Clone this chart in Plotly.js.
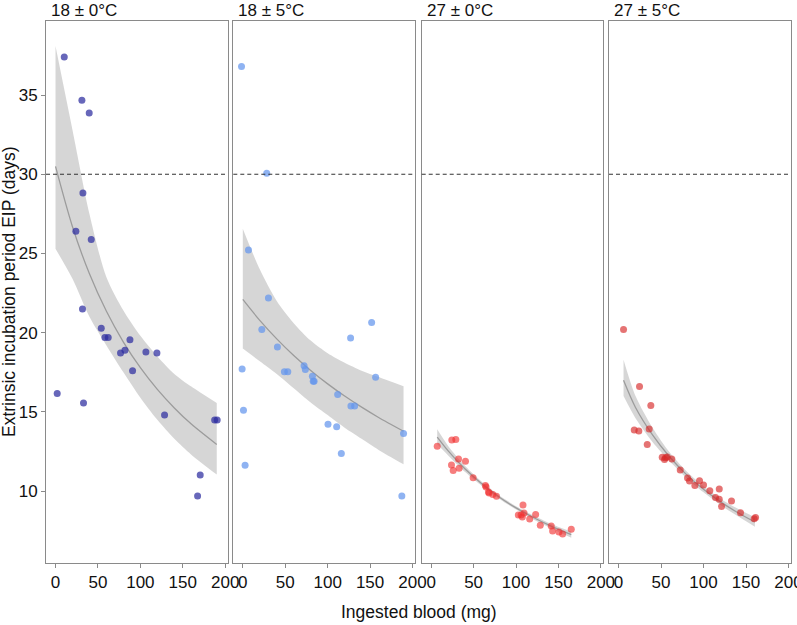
<!DOCTYPE html>
<html>
<head>
<meta charset="utf-8">
<script src="https://cdn.plot.ly/plotly-3.0.1.min.js"></script>
<style>
  html, body { margin: 0; padding: 0; background: #fff; }
  #chart { width: 797px; height: 625px; }
</style>
</head>
<body>
<div id="chart"></div>
<script>
// Panel labels (temperature regimes)
const panelTitles = ["18 \u00b1 0\u00b0C", "18 \u00b1 5\u00b0C", "27 \u00b1 0\u00b0C", "27 \u00b1 5\u00b0C"];

// Observed EIP (days) against ingested blood (mg)
const bloodA = [10.3, 31.1, 39.7, 32.3, 24.0, 42.1, 31.8, 53.9, 58.2, 62.1, 87.7, 76.6, 81.8, 106.5, 119.5, 90.8, 2.0, 33.0, 128.5, 187.5, 190.5, 170.5, 167.4];
const eipA   = [37.4, 34.67, 33.87, 28.82, 26.4, 25.88, 21.5, 20.28, 19.7, 19.7, 19.56, 18.72, 18.9, 18.78, 18.72, 17.6, 16.16, 15.56, 14.8, 14.49, 14.49, 11.02, 9.69];

const bloodB = [-1.5, 28.2, 6.7, 30.2, 22.4, 40.8, -0.8, 49.0, 53.0, 72.2, 73.7, 82.0, 83.0, 84.0, 111.8, 127.0, 151.8, 156.5, 127.4, 131.8, 100.4, 110.6, 116.1, 0.8, 2.7, 189.4, 187.4];
const eipB   = [36.8, 30.06, 25.22, 22.19, 20.2, 19.1, 17.71, 17.54, 17.54, 17.92, 17.67, 17.25, 16.93, 16.93, 16.1, 19.67, 20.64, 17.18, 15.37, 15.37, 14.22, 14.07, 12.37, 15.1, 11.63, 13.63, 9.69];

const bloodC = [7.1, 24.3, 29.0, 23.9, 25.9, 32.2, 32.9, 40.4, 49.4, 63.9, 64.7, 67.5, 68.2, 72.6, 76.9, 108.2, 102.7, 105.9, 107.4, 109.4, 116.1, 123.1, 128.6, 141.5, 143.1, 150.6, 154.9, 165.1];
const eipC   = [12.83, 13.23, 13.25, 11.65, 11.3, 12.03, 11.44, 11.88, 10.85, 10.35, 10.26, 9.94, 9.88, 9.78, 9.67, 9.12, 8.49, 8.49, 8.37, 8.62, 8.24, 8.52, 7.84, 7.8, 7.48, 7.42, 7.29, 7.59];

const bloodD = [5.9, 24.7, 38.0, 18.5, 23.9, 36.1, 33.8, 51.4, 54.1, 57.3, 55.3, 62.7, 72.6, 81.2, 83.5, 89.8, 95.3, 100.0, 107.4, 114.1, 118.5, 118.5, 121.2, 132.9, 143.5, 159.6, 161.2];
const eipD   = [20.2, 16.6, 15.4, 13.86, 13.79, 13.92, 12.94, 12.13, 12.0, 12.15, 12.11, 12.03, 11.33, 10.83, 10.64, 10.35, 10.66, 10.39, 10.02, 9.6, 9.48, 10.13, 9.02, 9.38, 8.64, 8.26, 8.33];

// Fitted curves with confidence bands
const fitXA  = [0, 20, 40, 60, 80, 100, 120, 140, 160, 190];
const fitA   = [30.5, 26.69, 23.72, 21.35, 19.41, 17.79, 16.42, 15.25, 14.23, 12.94];
const upperA = [38.1, 32.8, 27.5, 23.5, 21.4, 19.8, 18.5, 17.4, 16.6, 15.56];
const lowerA = [25.3, 23.4, 21.0, 19.2, 17.5, 15.9, 14.5, 13.3, 12.3, 11.04];

const fitXB  = [0, 20, 40, 60, 80, 100, 120, 140, 160, 189.4];
const fitB   = [22.1, 20.78, 19.61, 18.56, 17.62, 16.77, 16.0, 15.3, 14.65, 13.78];
const upperB = [26.57, 24.0, 22.0, 20.6, 19.5, 18.7, 18.1, 17.6, 17.2, 16.62];
const lowerB = [19.0, 18.2, 17.4, 16.5, 15.6, 14.8, 14.0, 13.3, 12.6, 11.69];

const fitXC  = [7.1, 20, 40, 60, 80, 100, 120, 140, 165.1];
const fitC   = [13.41, 12.54, 11.39, 10.44, 9.63, 8.94, 8.35, 7.82, 7.25];
const upperC = [13.9, 12.85, 11.58, 10.57, 9.74, 9.05, 8.47, 7.96, 7.45];
const lowerC = [12.95, 12.25, 11.2, 10.31, 9.52, 8.83, 8.23, 7.69, 7.05];

const fitXD  = [5.9, 20, 40, 60, 80, 100, 120, 140, 160.4];
const fitD   = [17.0, 15.28, 13.55, 12.17, 11.04, 10.11, 9.32, 8.65, 8.05];
const upperD = [18.3, 16.0, 14.0, 12.45, 11.25, 10.3, 9.52, 8.9, 8.35];
const lowerD = [16.0, 14.6, 13.1, 11.9, 10.83, 9.92, 9.12, 8.42, 7.75];

// Reference threshold (days)
const threshold = 30;

const xTicks = [0, 50, 100, 150, 200];
const yTicks = [10, 15, 20, 25, 30, 35];

const panels = [
  { bx: bloodA, by: eipA, fx: fitXA, fy: fitA, up: upperA, lo: lowerA, color: "rgba(45,45,160,0.72)" },
  { bx: bloodB, by: eipB, fx: fitXB, fy: fitB, up: upperB, lo: lowerB, color: "rgba(100,149,237,0.72)" },
  { bx: bloodC, by: eipC, fx: fitXC, fy: fitC, up: upperC, lo: lowerC, color: "rgba(240,45,45,0.62)" },
  { bx: bloodD, by: eipD, fx: fitXD, fy: fitD, up: upperD, lo: lowerD, color: "rgba(215,40,40,0.65)" }
];

const domains = [[0, 0.2439], [0.2514, 0.4953], [0.5043, 0.7481], [0.7557, 1]];
const FONT = "Liberation Sans, Arial, Helvetica, sans-serif";
const frame = "#8a8a8a";
const TICK_SIZE = 17;

const traces = [];
const shapes = [];
const annotations = [];
const layout = {
  width: 797, height: 625,
  margin: { l: 46, r: 6, t: 21, b: 62 },
  paper_bgcolor: "#fff", plot_bgcolor: "#fff",
  showlegend: false,
  font: { family: FONT, size: TICK_SIZE, color: "#111" }
};

panels.forEach((p, i) => {
  const n = i + 1;
  const xa = n === 1 ? "x" : "x" + n;
  const ya = n === 1 ? "y" : "y" + n;

  // confidence band: lower edge, then upper edge filled down to it
  traces.push({
    type: "scatter", mode: "lines", xaxis: xa, yaxis: ya,
    x: p.fx, y: p.lo,
    line: { width: 0, shape: "spline", smoothing: 0.8 }, hoverinfo: "skip"
  });
  traces.push({
    type: "scatter", mode: "lines", xaxis: xa, yaxis: ya,
    x: p.fx, y: p.up,
    fill: "tonexty", fillcolor: "rgba(153,153,153,0.4)",
    line: { width: 0, shape: "spline", smoothing: 0.8 }, hoverinfo: "skip"
  });
  // fitted curve
  traces.push({
    type: "scatter", mode: "lines", xaxis: xa, yaxis: ya,
    x: p.fx, y: p.fy,
    line: { color: "#9c9c9c", width: 1.3, shape: "spline", smoothing: 0.8 }
  });
  // observations
  traces.push({
    type: "scatter", mode: "markers", xaxis: xa, yaxis: ya,
    x: p.bx, y: p.by,
    marker: { color: p.color, size: 7, line: { width: 0 } }
  });

  layout["xaxis" + (n === 1 ? "" : n)] = {
    domain: domains[i], anchor: ya, range: [-11.2, 202.9],
    tickvals: xTicks, ticktext: xTicks.map(String),
    ticks: "outside", ticklen: 4, tickcolor: frame, tickwidth: 1,
    ticklabeloverflow: "allow",
    showline: true, linecolor: frame, linewidth: 1, mirror: true,
    showgrid: false, zeroline: false,
    tickfont: { family: FONT, size: TICK_SIZE, color: "#111" }
  };
  layout["yaxis" + (n === 1 ? "" : n)] = {
    anchor: xa, range: [5.46, 39.68],
    tickvals: yTicks, ticktext: yTicks.map(String),
    ticks: n === 1 ? "outside" : "", ticklen: 4, tickcolor: frame, tickwidth: 1,
    showticklabels: n === 1,
    showline: true, linecolor: frame, linewidth: 1, mirror: true,
    showgrid: false, zeroline: false,
    tickfont: { family: FONT, size: TICK_SIZE, color: "#111" }
  };

  shapes.push({
    type: "line", xref: xa + " domain", yref: ya,
    x0: 0, x1: 1, y0: threshold, y1: threshold,
    line: { color: "#333", width: 1.1, dash: "4px,3px" }, layer: "above"
  });

  annotations.push({
    text: panelTitles[i], xref: "paper", yref: "paper",
    x: domains[i][0], y: 1, xanchor: "left", yanchor: "bottom",
    xshift: 3, yshift: -1, showarrow: false,
    font: { family: FONT, size: 17, color: "#111" }
  });
});

annotations.push({
  text: "Ingested blood (mg)", xref: "paper", yref: "paper",
  x: 0.5, y: 0, yshift: -49, xanchor: "center", yanchor: "middle",
  showarrow: false, font: { family: FONT, size: 17.5, color: "#111" }
});
annotations.push({
  text: "Extrinsic incubation period EIP (days)", xref: "paper", yref: "paper",
  x: 0, xshift: -37, y: 0.5, xanchor: "center", yanchor: "middle", textangle: -90,
  showarrow: false, font: { family: FONT, size: 17.5, color: "#111" }
});

layout.shapes = shapes;
layout.annotations = annotations;

Plotly.newPlot("chart", traces, layout, { displayModeBar: false, staticPlot: true });
</script>
</body>
</html>
